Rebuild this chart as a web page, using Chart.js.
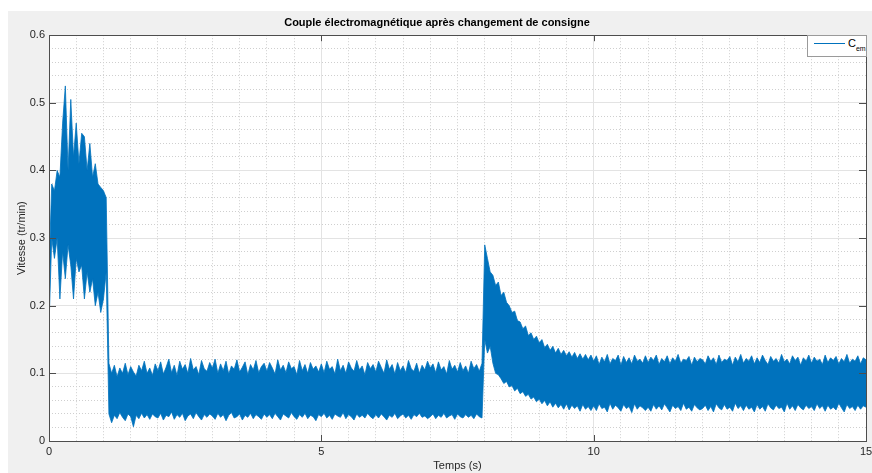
<!DOCTYPE html>
<html>
<head>
<meta charset="utf-8">
<script src="https://cdn.jsdelivr.net/npm/chart.js@4"></script>
<style>
 body{margin:0;background:#fff;width:872px;height:473px;overflow:hidden;position:relative;font-family:'Liberation Sans',Arial,sans-serif;}
 #fond{position:absolute;left:8px;top:11px;width:864px;height:462px;background:#f0f0f0;}
 #legende{position:absolute;background:#fff;border:1px solid #9a9a9a;box-sizing:border-box;width:60px;height:22px;font-size:11px;color:#000;}
 #legende .trait{position:absolute;left:6px;top:7px;width:31px;height:1px;background:#0072BD;}
 #legende .txt{position:absolute;left:40px;top:1px;white-space:nowrap;color:#000;}
 #legende sub{font-size:7px;vertical-align:-4px;color:#000;}
</style>
</head>
<body>
<div id="fond"><canvas id="chart" width="864" height="462"></canvas></div>
<div id="legende"><span class="trait"></span><span class="txt">C<sub>em</sub></span></div>
<script>
const titre='Couple électromagnétique après changement de consigne';
const titreX='Temps (s)';
const titreY='Vitesse (tr/min)';
const pas=0.05; // pas d'échantillonnage des enveloppes (s)

// enveloppe haute du couple (une ligne = 1 s)
const haut=[
 0.25,0.38,0.37,0.40,0.39,0.47,0.525,0.40,0.505,0.42,0.47,0.41,0.455,0.45,0.40,0.44,0.39,0.41,0.38,0.375,
 0.37,0.36,0.115,0.10,0.112,0.095,0.108,0.10,0.115,0.098,0.11,0.102,0.096,0.112,0.104,0.118,0.10,0.108,0.097,0.114,
 0.104,0.117,0.099,0.109,0.121,0.101,0.112,0.097,0.118,0.106,0.113,0.100,0.122,0.105,0.110,0.098,0.119,0.107,0.103,0.116,
 0.108,0.121,0.100,0.114,0.104,0.118,0.099,0.111,0.106,0.120,0.102,0.109,0.117,0.098,0.113,0.105,0.119,0.101,0.110,0.115,
 0.103,0.116,0.108,0.099,0.120,0.105,0.112,0.101,0.117,0.107,0.110,0.098,0.119,0.104,0.113,0.100,0.116,0.106,0.111,0.102,
 0.114,0.101,0.118,0.106,0.110,0.099,0.121,0.104,0.112,0.100,0.117,0.108,0.103,0.119,0.105,0.111,0.098,0.116,0.107,0.113,
 0.102,0.118,0.109,0.100,0.120,0.106,0.113,0.099,0.116,0.104,0.111,0.101,0.119,0.107,0.103,0.115,0.100,0.112,0.105,0.118,
 0.108,0.114,0.101,0.117,0.105,0.110,0.099,0.119,0.106,0.112,0.102,0.116,0.104,0.111,0.100,0.118,0.107,0.113,0.103,0.115,
 0.29,0.27,0.25,0.245,0.23,0.235,0.215,0.22,0.205,0.20,0.19,0.192,0.178,0.176,0.166,0.170,0.156,0.160,0.150,0.155,
 0.145,0.150,0.138,0.143,0.134,0.140,0.130,0.137,0.128,0.134,0.126,0.132,0.124,0.131,0.122,0.129,0.121,0.128,0.120,0.127,
 0.118,0.126,0.113,0.124,0.117,0.128,0.114,0.122,0.119,0.127,0.112,0.125,0.116,0.123,0.114,0.127,0.118,0.121,0.115,0.126,
 0.116,0.124,0.119,0.127,0.113,0.122,0.117,0.126,0.114,0.123,0.118,0.128,0.115,0.121,0.119,0.125,0.112,0.124,0.117,0.122,
 0.120,0.114,0.126,0.118,0.123,0.113,0.127,0.116,0.121,0.119,0.125,0.112,0.124,0.117,0.128,0.115,0.122,0.118,0.126,0.114,
 0.123,0.116,0.127,0.119,0.113,0.125,0.118,0.122,0.115,0.128,0.117,0.121,0.114,0.126,0.119,0.124,0.112,0.123,0.118,0.127,
 0.115,0.124,0.118,0.121,0.113,0.127,0.116,0.123,0.119,0.125,0.114,0.122,0.117,0.128,0.115,0.121,0.118,0.126,0.114,0.123,
 0.12
];

// enveloppe basse
const bas=[
 0.17,0.30,0.27,0.30,0.21,0.28,0.24,0.29,0.26,0.21,0.27,0.25,0.26,0.21,0.25,0.22,0.24,0.20,0.22,0.19,
 0.21,0.25,0.04,0.027,0.038,0.033,0.042,0.035,0.030,0.040,0.036,0.021,0.038,0.033,0.041,0.034,0.039,0.032,0.040,0.036,
 0.034,0.041,0.031,0.038,0.036,0.043,0.032,0.039,0.035,0.041,0.030,0.037,0.040,0.033,0.042,0.036,0.031,0.039,0.035,0.040,
 0.037,0.032,0.041,0.035,0.039,0.030,0.038,0.042,0.034,0.036,0.040,0.031,0.038,0.035,0.041,0.033,0.039,0.036,0.032,0.040,
 0.035,0.039,0.033,0.041,0.036,0.031,0.040,0.037,0.034,0.042,0.036,0.032,0.039,0.035,0.041,0.033,0.038,0.036,0.030,0.039,
 0.036,0.041,0.034,0.038,0.032,0.040,0.037,0.035,0.042,0.033,0.039,0.036,0.031,0.040,0.035,0.038,0.034,0.041,0.036,0.033,
 0.039,0.034,0.040,0.036,0.031,0.038,0.035,0.041,0.033,0.037,0.040,0.034,0.038,0.032,0.039,0.036,0.041,0.035,0.037,0.033,
 0.036,0.040,0.033,0.038,0.035,0.041,0.034,0.037,0.039,0.032,0.040,0.036,0.034,0.039,0.035,0.038,0.033,0.040,0.036,0.034,
 0.15,0.13,0.14,0.115,0.10,0.098,0.092,0.085,0.088,0.080,0.082,0.074,0.078,0.070,0.073,0.066,0.069,0.062,0.065,0.058,
 0.062,0.055,0.060,0.052,0.058,0.050,0.056,0.049,0.054,0.047,0.055,0.046,0.053,0.048,0.052,0.044,0.054,0.047,0.051,0.045,
 0.052,0.045,0.055,0.048,0.050,0.043,0.056,0.047,0.053,0.049,0.044,0.054,0.048,0.051,0.042,0.055,0.047,0.052,0.049,0.045,
 0.050,0.044,0.054,0.047,0.052,0.046,0.055,0.049,0.043,0.053,0.048,0.051,0.045,0.056,0.047,0.050,0.044,0.054,0.049,0.046,
 0.048,0.053,0.045,0.051,0.043,0.055,0.049,0.046,0.054,0.047,0.050,0.044,0.056,0.048,0.052,0.045,0.053,0.047,0.050,0.043,
 0.054,0.047,0.051,0.044,0.055,0.049,0.046,0.053,0.048,0.050,0.043,0.056,0.047,0.052,0.045,0.054,0.049,0.046,0.053,0.048,
 0.051,0.045,0.055,0.048,0.052,0.044,0.053,0.047,0.050,0.046,0.056,0.049,0.043,0.054,0.048,0.051,0.045,0.053,0.047,0.052,
 0.05
];

const temps=haut.map((_,i)=>i*pas);
const ticksX=[0,5,10,15];
const ticksY=[0,0.1,0.2,0.3,0.4,0.5,0.6];

const bleu='#0072BD';
const police="'Liberation Sans', Arial, sans-serif";
const gris='#262626';

const majeur=(v,step)=>Math.abs(v/step-Math.round(v/step))<1e-6;

// fond blanc, cadre et graduations internes façon matlab
const cadre={
 id:'cadre',
 beforeDraw(c){
  const a=c.chartArea,ctx=c.ctx;
  ctx.save();ctx.fillStyle='#fff';ctx.fillRect(a.left,a.top,a.right-a.left,a.bottom-a.top);ctx.restore();
 },
 afterDraw(c){
  const a=c.chartArea,ctx=c.ctx,sx=c.scales.x,sy=c.scales.y;
  ctx.save();
  ctx.strokeStyle='#4d4d4d';ctx.lineWidth=1;
  ctx.beginPath();
  ticksX.forEach(v=>{
   const p=Math.round(sx.getPixelForValue(v))+0.5;
   ctx.moveTo(p,a.bottom);ctx.lineTo(p,a.bottom-6);
   ctx.moveTo(p,a.top);ctx.lineTo(p,a.top+6);
  });
  ticksY.forEach(v=>{
   const p=Math.round(sy.getPixelForValue(v))+0.5;
   ctx.moveTo(a.left,p);ctx.lineTo(a.left+7,p);
   ctx.moveTo(a.right,p);ctx.lineTo(a.right-7,p);
  });
  ctx.stroke();
  ctx.strokeRect(Math.round(a.left)+0.5,Math.round(a.top)+0.5,Math.round(a.right-a.left),Math.round(a.bottom-a.top));
  ctx.restore();
  const lg=document.getElementById('legende');
  lg.style.left=(8+a.right-59)+'px';
  lg.style.top=(11+a.top)+'px';
 }
};

new Chart(document.getElementById('chart'),{
 type:'line',
 data:{
  labels:temps,
  datasets:[
   {label:'Cem haut',data:haut,borderColor:bleu,borderWidth:0.8,pointRadius:0,fill:false},
   {label:'Cem bas',data:bas,borderColor:bleu,borderWidth:0.8,pointRadius:0,fill:'-1',backgroundColor:bleu}
  ]
 },
 options:{
  responsive:false,
  animation:false,
  devicePixelRatio:1,
  layout:{padding:{left:0,right:6,top:0,bottom:0}},
  plugins:{
   legend:{display:false},
   tooltip:{enabled:false},
   title:{display:true,text:titre,color:'#000',font:{family:police,size:11,weight:'bold'},padding:{top:5,bottom:6}}
  },
  scales:{
   x:{
    type:'linear',min:0,max:15,
    ticks:{stepSize:0.5,autoSkip:false,maxRotation:0,padding:4,color:gris,font:{family:police,size:11},
     callback:v=>majeur(v,5)?String(Math.round(v)):''},
    grid:{drawTicks:false,color:c=>c.tick&&majeur(c.tick.value,5)?'#e3e3e3':'#cfcfcf',lineWidth:1},
    border:{display:false,dash:c=>c.tick&&majeur(c.tick.value,5)?[]:[1,2]},
    title:{display:true,text:titreX,color:gris,font:{family:police,size:11},padding:{top:0,bottom:0}},
    afterFit:s=>{s.height=32;s.paddingLeft=0;s.paddingRight=0;}
   },
   y:{
    min:0,max:0.6,
    ticks:{stepSize:0.02,autoSkip:false,padding:4,color:gris,font:{family:police,size:11},
     callback:v=>majeur(v,0.1)?String(Math.round(v*10)/10):''},
    grid:{drawTicks:false,color:c=>c.tick&&majeur(c.tick.value,0.1)?'#e3e3e3':'#cfcfcf',lineWidth:1},
    border:{display:false,dash:c=>c.tick&&majeur(c.tick.value,0.1)?[]:[1,2]},
    title:{display:true,text:titreY,color:gris,font:{family:police,size:11},padding:{top:7,bottom:0}},
    afterFit:s=>{s.width=41;s.paddingTop=0;s.paddingBottom=0;}
   }
  }
 },
 plugins:[cadre]
});
</script>
</body>
</html>
